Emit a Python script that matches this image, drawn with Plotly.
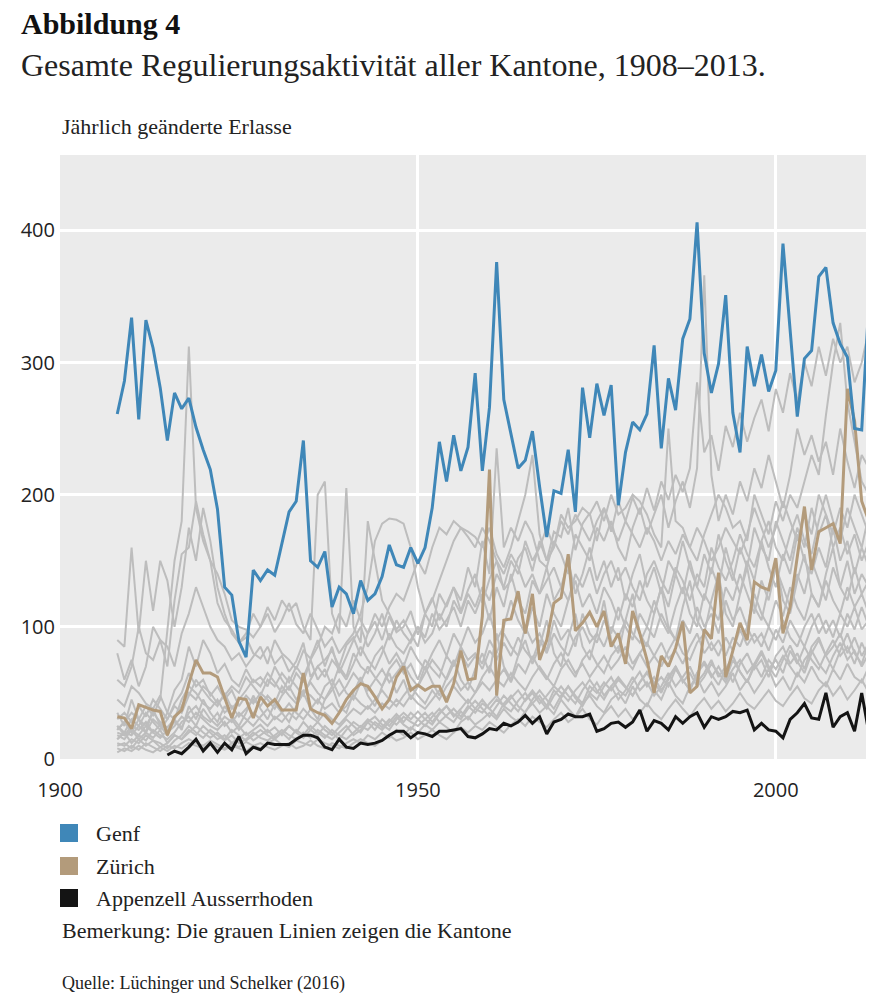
import plotly.graph_objects as go

# Jahre
jahre = list(range(1908, 2014))
jahre_ar = list(range(1915, 2014))

# Genf (blau)
genf = [261, 286, 334, 257, 332, 311, 281, 241, 277, 265,
        273, 251, 234, 219, 189, 130, 124, 89, 77, 143,
        135, 143, 139, 163, 187, 195, 241, 150, 145, 157,
        115, 130, 125, 110, 135, 120, 125, 138, 162, 147,
        145, 160, 148, 160, 190, 240, 210, 245, 218, 236,
        292, 218, 266, 376, 272, 246, 220, 226, 248, 206,
        168, 203, 201, 234, 187, 281, 243, 284, 260, 283,
        192, 232, 255, 249, 261, 313, 235, 288, 264, 318,
        333, 406, 307, 277, 299, 351, 262, 232, 312, 282,
        306, 278, 294, 390, 325, 259, 303, 309, 365, 372,
        330, 314, 304, 250, 249, 345]

# Zürich (braun)
zuerich = [32, 31, 23, 41, 39, 37, 36, 18, 32, 37,
           57, 75, 65, 65, 62, 47, 31, 46, 45, 31,
           47, 40, 45, 37, 37, 37, 65, 38, 35, 33,
           27, 35, 45, 52, 57, 55, 47, 38, 45, 62,
           70, 52, 56, 52, 55, 55, 43, 57, 82, 60,
           61, 108, 219, 48, 105, 106, 127, 95, 125, 75,
           90, 118, 122, 155, 97, 103, 111, 100, 112, 85,
           95, 72, 112, 95, 75, 50, 78, 70, 84, 104,
           50, 55, 98, 91, 141, 62, 82, 103, 90, 134,
           130, 128, 152, 95, 115, 153, 191, 143, 172, 175,
           178, 163, 280, 256, 195, 180]

# Appenzell Ausserrhoden (schwarz), ab 1915
appenzell = [3, 6, 4, 9, 15, 6, 12, 5, 12, 7,
             17, 4, 9, 7, 12, 11, 11, 11, 15, 18,
             18, 16, 9, 7, 15, 9, 8, 12, 11, 12,
             14, 18, 21, 21, 16, 20, 19, 17, 21, 21,
             22, 23, 17, 16, 19, 23, 22, 27, 25, 28,
             33, 27, 32, 19, 28, 30, 34, 32, 32, 34,
             21, 23, 27, 28, 24, 28, 37, 21, 29, 27,
             22, 32, 27, 32, 35, 24, 32, 30, 32, 36,
             35, 37, 22, 27, 22, 21, 16, 30, 35, 42,
             31, 30, 50, 24, 32, 35, 21, 50, 20]

# uebrige Kantone (grau)
grau_01 = [22, 28, 35, 30, 40, 33, 45, 95, 150, 180,
           312, 190, 165, 150, 118, 105, 98, 88, 92, 80,
           76, 85, 72, 78, 66, 74, 88, 62, 70, 75,
           82, 70, 86, 92, 78, 95, 104, 90, 108, 96,
           100, 112, 94, 110, 122, 105, 118, 130, 112, 128,
           140, 118, 136, 150, 128, 135, 152, 160, 142, 165,
           150, 172, 168, 190, 158, 178, 186, 165, 190, 172,
           195, 180, 198, 185, 205, 188, 210, 196, 215, 202,
           220, 285, 232, 245, 218, 252, 236, 262, 240, 258,
           272, 248, 280, 262, 292, 270, 300, 282, 312, 290,
           318, 300, 312, 285, 300, 325]
grau_02 = [90, 85, 160, 95, 150, 112, 150, 135, 100, 130,
           175, 150, 190, 165, 130, 110, 95, 88, 95, 110,
           100, 115, 105, 120, 112, 118, 100, 90, 200, 210,
           110, 95, 205, 100, 88, 180, 150, 120, 110, 98,
           105, 95, 85, 110, 100, 125, 115, 130, 120, 145,
           130, 165, 140, 235, 160, 175, 165, 180, 170, 150,
           145, 165, 155, 140, 170, 160, 150, 175, 165, 180,
           160, 150, 175, 190, 170, 185, 200, 175, 195, 210,
           190, 220, 366, 215, 180, 200, 185, 210, 195, 220,
           205, 230, 210, 190, 215, 250, 230, 245, 225, 240,
           215, 250, 225, 205, 230, 220]
grau_03 = [60, 55, 70, 100, 80, 75, 90, 70, 120, 155,
           160, 195, 170, 150, 140, 125, 105, 100, 98, 92,
           100, 110, 96, 105, 118, 102, 95, 110, 98, 85,
           92, 80, 88, 95, 110, 130, 165, 178, 182, 181,
           178, 160, 130, 110, 120, 135, 150, 165, 175, 172,
           168, 160, 175, 155, 145, 160, 180, 200, 230, 170,
           150, 160, 185, 175, 180, 190, 185, 195, 180, 200,
           185, 190, 200, 195, 185, 170, 160, 250, 180, 175,
           160, 150, 170, 185, 200, 190, 175, 180, 165, 200,
           185, 170, 195, 180, 200, 190, 210, 230, 215, 260,
           300, 330, 270, 240, 210, 200]
grau_04 = [80, 60, 75, 55, 70, 100, 90, 85, 70, 95,
           110, 130, 115, 100, 90, 85, 75, 80, 70, 78,
           85, 72, 90, 80, 75, 68, 82, 76, 90, 70,
           85, 65, 78, 90, 100, 85, 95, 110, 90, 105,
           95, 88, 100, 92, 110, 98, 105, 115, 100, 120,
           110, 125, 105, 130, 115, 140, 120, 110, 135, 125,
           145, 120, 130, 150, 125, 140, 160, 135, 150, 130,
           145, 120, 140, 155, 130, 145, 125, 150, 140, 165,
           145, 130, 155, 140, 170, 150, 135, 160, 145, 175,
           160, 150, 180, 165, 150, 175, 160, 190, 170, 185,
           160, 175, 155, 170, 150, 165]
grau_05 = [45, 40, 55, 50, 42, 38, 48, 35, 52, 60,
           85, 70, 90, 80, 65, 72, 60, 55, 68, 58,
           62, 55, 70, 60, 52, 65, 58, 75, 60, 68,
           55, 70, 62, 80, 70, 65, 78, 85, 72, 80,
           70, 85, 75, 68, 80, 90, 78, 95, 85, 100,
           88, 95, 110, 90, 100, 120, 105, 95, 115, 100,
           125, 110, 100, 120, 135, 115, 125, 110, 130, 120,
           105, 125, 115, 135, 120, 110, 130, 115, 140, 125,
           150, 130, 120, 145, 130, 160, 140, 125, 150, 135,
           165, 145, 130, 155, 140, 170, 150, 140, 160, 145,
           175, 150, 165, 140, 160, 145]
grau_06 = [30, 35, 28, 40, 32, 45, 38, 30, 42, 50,
           65, 55, 60, 48, 55, 45, 52, 40, 48, 42,
           50, 45, 38, 48, 55, 45, 52, 48, 42, 55,
           60, 48, 55, 65, 58, 70, 62, 55, 68, 75,
           65, 72, 60, 75, 68, 62, 78, 70, 85, 75,
           80, 72, 90, 80, 95, 85, 78, 100, 88, 95,
           82, 105, 90, 98, 85, 110, 95, 88, 105, 95,
           115, 100, 90, 110, 100, 120, 105, 95, 115, 130,
           110, 100, 125, 115, 105, 130, 120, 140, 125, 110,
           135, 120, 145, 130, 115, 140, 125, 150, 135, 120,
           145, 130, 150, 125, 140, 130]
grau_07 = [25, 20, 30, 25, 35, 28, 22, 30, 40, 35,
           48, 60, 52, 45, 40, 50, 38, 45, 52, 60,
           55, 65, 58, 50, 62, 55, 48, 60, 70, 62,
           75, 68, 60, 72, 85, 75, 68, 80, 95, 85,
           80, 90, 100, 88, 95, 110, 100, 120, 110, 125,
           115, 130, 120, 140, 130, 150, 140, 165, 150, 160,
           175, 160, 180, 170, 185, 175, 165, 180, 190, 175,
           165, 180, 170, 160, 175, 165, 150, 165, 155, 170,
           160, 175, 165, 150, 160, 175, 165, 155, 170, 190,
           175, 160, 175, 195, 180, 165, 185, 170, 200, 185,
           170, 190, 175, 200, 185, 170]
grau_08 = [20, 18, 25, 22, 28, 20, 26, 24, 30, 45,
           55, 50, 42, 38, 45, 35, 40, 32, 38, 45,
           40, 48, 42, 55, 48, 42, 50, 58, 50, 45,
           52, 60, 50, 45, 58, 52, 60, 68, 58, 65,
           72, 62, 55, 65, 75, 68, 60, 72, 80, 70,
           78, 68, 82, 75, 88, 78, 92, 82, 75, 90,
           80, 95, 85, 78, 92, 100, 88, 95, 85, 100,
           92, 105, 95, 88, 100, 92, 110, 98, 90, 105,
           95, 115, 100, 110, 95, 120, 105, 115, 100, 125,
           110, 100, 120, 108, 130, 115, 105, 125, 115, 135,
           120, 110, 130, 115, 125, 110]
grau_09 = [15, 20, 18, 25, 20, 30, 25, 35, 30, 40,
           50, 45, 55, 50, 42, 48, 55, 50, 62, 55,
           48, 60, 55, 65, 58, 70, 62, 75, 85, 100,
           95, 110, 100, 120, 105, 95, 110, 100, 115, 125,
           120, 135, 150, 140, 160, 175, 170, 180, 175, 168,
           160, 175, 165, 150, 140, 155, 145, 130, 140, 125,
           135, 145, 130, 120, 140, 130, 145, 125, 140, 150,
           135, 145, 130, 120, 140, 150, 135, 125, 145, 135,
           120, 140, 130, 160, 145, 135, 150, 170, 155, 145,
           165, 180, 160, 150, 170, 185, 165, 155, 180, 200,
           180, 165, 190, 175, 160, 185]
grau_10 = [10, 12, 8, 15, 10, 14, 9, 12, 18, 15,
           22, 18, 25, 20, 15, 18, 12, 16, 20, 14,
           18, 22, 16, 20, 15, 22, 18, 25, 20, 16,
           22, 18, 15, 20, 25, 22, 28, 24, 30, 26,
           32, 28, 25, 30, 35, 28, 33, 38, 32, 40,
           35, 42, 38, 45, 40, 36, 44, 50, 42, 48,
           40, 52, 46, 55, 48, 42, 55, 50, 58, 52,
           60, 54, 48, 58, 65, 56, 62, 55, 68, 60,
           52, 65, 72, 62, 70, 60, 75, 66, 58, 70,
           80, 68, 75, 65, 82, 72, 85, 75, 68, 80,
           90, 78, 85, 72, 88, 76]
grau_11 = [18, 15, 22, 18, 25, 20, 16, 22, 28, 24,
           35, 40, 32, 28, 35, 25, 30, 22, 28, 35,
           30, 25, 32, 28, 35, 30, 38, 32, 28, 35,
           30, 26, 32, 38, 34, 40, 35, 42, 38, 45,
           40, 48, 42, 38, 45, 52, 46, 55, 48, 42,
           50, 58, 52, 60, 55, 65, 58, 52, 62, 70,
           62, 55, 68, 75, 65, 72, 62, 70, 78, 68,
           75, 85, 72, 80, 70, 78, 88, 76, 82, 72,
           85, 95, 80, 88, 78, 92, 82, 98, 86, 95,
           85, 100, 90, 105, 92, 85, 100, 110, 95, 105,
           92, 110, 100, 115, 98, 105]
grau_12 = [8, 6, 10, 7, 12, 9, 6, 10, 8, 12,
           15, 12, 10, 14, 11, 8, 12, 9, 13, 10,
           8, 12, 15, 11, 9, 14, 12, 10, 15, 12,
           10, 8, 12, 15, 12, 18, 15, 20, 16, 22,
           18, 24, 20, 26, 22, 28, 24, 20, 28, 32,
           26, 30, 35, 30, 38, 32, 28, 36, 42, 35,
           40, 34, 45, 38, 32, 42, 48, 40, 35, 45,
           50, 42, 55, 45, 40, 52, 45, 58, 48, 42,
           55, 62, 50, 58, 48, 55, 65, 52, 60, 50,
           58, 68, 55, 62, 52, 65, 58, 70, 60, 55,
           68, 60, 72, 62, 58, 70]
grau_13 = [22, 28, 20, 30, 25, 35, 28, 20, 25, 32,
           28, 35, 30, 25, 22, 28, 20, 25, 18, 22,
           26, 20, 24, 18, 25, 20, 28, 22, 18, 25,
           20, 15, 22, 28, 24, 30, 26, 22, 28, 34,
           28, 35, 30, 25, 32, 38, 32, 28, 36, 30,
           38, 45, 38, 32, 42, 48, 40, 35, 45, 52,
           45, 38, 48, 55, 46, 40, 50, 58, 48, 55,
           45, 52, 62, 52, 58, 48, 55, 65, 55, 62,
           70, 58, 65, 75, 62, 70, 58, 72, 80, 68,
           75, 62, 78, 85, 72, 80, 68, 85, 92, 78,
           85, 95, 80, 92, 78, 88]
grau_14 = [12, 10, 15, 12, 18, 14, 12, 8, 14, 18,
           25, 20, 16, 22, 18, 14, 18, 12, 15, 20,
           16, 14, 18, 22, 18, 15, 20, 16, 22, 18,
           15, 20, 25, 18, 22, 28, 22, 30, 25, 32,
           26, 22, 30, 35, 28, 35, 40, 32, 38, 45,
           38, 35, 42, 48, 40, 46, 52, 44, 50, 42,
           48, 55, 50, 44, 52, 58, 50, 45, 55, 62,
           52, 48, 58, 66, 55, 62, 52, 60, 70, 58,
           65, 55, 62, 72, 65, 58, 68, 75, 65, 72,
           62, 75, 68, 78, 70, 62, 75, 82, 72, 65,
           78, 88, 75, 82, 70, 80]
grau_15 = [15, 20, 12, 18, 14, 22, 18, 15, 20, 28,
           32, 25, 38, 30, 25, 32, 28, 35, 30, 25,
           32, 38, 30, 35, 42, 35, 30, 38, 45, 38,
           42, 35, 40, 48, 42, 38, 45, 52, 45, 40,
           48, 55, 48, 42, 52, 45, 55, 62, 52, 58,
           50, 62, 70, 60, 68, 58, 72, 65, 78, 68,
           60, 72, 80, 70, 62, 75, 82, 72, 65, 78,
           85, 75, 68, 80, 88, 78, 70, 82, 92, 80,
           75, 88, 95, 82, 90, 78, 92, 85, 100, 88,
           95, 82, 98, 88, 105, 95, 85, 100, 110, 95,
           105, 92, 110, 98, 115, 100]
grau_16 = [5, 8, 6, 10, 7, 5, 9, 6, 10, 8,
           12, 10, 8, 12, 9, 7, 10, 8, 6, 10,
           12, 9, 7, 10, 12, 8, 10, 14, 10, 8,
           12, 10, 8, 12, 15, 12, 10, 14, 18, 14,
           16, 20, 15, 18, 22, 18, 15, 20, 24, 20,
           25, 22, 28, 24, 20, 26, 30, 25, 32, 28,
           24, 30, 35, 28, 32, 38, 30, 26, 34, 40,
           32, 38, 30, 35, 42, 35, 30, 38, 45, 38,
           32, 40, 46, 38, 44, 36, 42, 50, 42, 38,
           45, 52, 44, 40, 48, 55, 46, 42, 52, 58,
           48, 55, 45, 52, 60, 50]
grau_17 = [35, 25, 45, 30, 20, 38, 25, 18, 30, 22,
           40, 30, 45, 35, 28, 40, 32, 25, 35, 48,
           38, 30, 42, 35, 28, 40, 50, 38, 30, 45,
           55, 40, 35, 50, 62, 48, 40, 55, 65, 50,
           60, 45, 55, 70, 58, 48, 62, 75, 60, 52,
           68, 80, 65, 95, 70, 60, 78, 90, 72, 85,
           105, 80, 70, 92, 110, 85, 75, 95, 120, 90,
           80, 105, 125, 95, 85, 110, 130, 100, 90, 115,
           135, 105, 95, 120, 140, 110, 100, 125, 145, 115,
           105, 130, 150, 120, 110, 135, 155, 125, 115, 140,
           160, 130, 120, 145, 125, 135]
grau_18 = [25, 18, 22, 15, 20, 16, 22, 12, 18, 15,
           20, 25, 20, 16, 20, 15, 22, 18, 14, 18,
           22, 18, 15, 20, 25, 20, 16, 22, 28, 22,
           18, 24, 30, 25, 20, 28, 32, 26, 22, 30,
           35, 30, 36, 30, 26, 34, 40, 34, 30, 38,
           44, 38, 32, 40, 48, 42, 36, 45, 52, 45,
           38, 48, 55, 48, 42, 52, 60, 52, 45, 55,
           62, 55, 48, 58, 66, 58, 50, 62, 70, 60,
           52, 65, 74, 64, 56, 68, 78, 66, 58, 72,
           82, 70, 62, 75, 86, 74, 65, 80, 90, 78,
           68, 82, 95, 80, 72, 88]

grau = [grau_01, grau_02, grau_03, grau_04, grau_05, grau_06, grau_07, grau_08, grau_09,
        grau_10, grau_11, grau_12, grau_13, grau_14, grau_15, grau_16, grau_17, grau_18]

farbe_genf = "#3f87b8"
farbe_zh = "#b39b7b"
farbe_ar = "#141414"
farbe_grau = "#bdbdbd"

# die Seite hat 8px Rand, daher Figur etwas kleiner und Pixelangaben -8
RAND = 8
W, H = 878 - RAND, 994 - RAND
L, R, T, B = 52, 12, 147, 235


def px(x):
    return (x - RAND - L) / (W - L - R)


def py(y):
    return (H - B - (y - RAND)) / (H - T - B)


fig = go.Figure()

for werte in grau:
    fig.add_trace(go.Scatter(x=jahre, y=werte, mode="lines",
                             line=dict(color=farbe_grau, width=2),
                             hoverinfo="skip", showlegend=False))

fig.add_trace(go.Scatter(x=jahre_ar, y=appenzell, mode="lines", name="Appenzell Ausserrhoden",
                         line=dict(color=farbe_ar, width=3), showlegend=False))
fig.add_trace(go.Scatter(x=jahre, y=zuerich, mode="lines", name="Zürich",
                         line=dict(color=farbe_zh, width=3), showlegend=False))
fig.add_trace(go.Scatter(x=jahre, y=genf, mode="lines", name="Genf",
                         line=dict(color=farbe_genf, width=3), showlegend=False))

serif = "Liberation Serif"

annotations = [
    dict(text="<b>Abbildung 4</b>", x=px(19), y=py(24), font=dict(family=serif, size=30, color="#111")),
    dict(text="Gesamte Regulierungsaktivität aller Kantone, 1908–2013.", x=px(19), y=py(65),
         font=dict(family=serif, size=32, color="#222")),
    dict(text="Jährlich geänderte Erlasse", x=px(60), y=py(126), font=dict(family=serif, size=22, color="#222")),
    dict(text="Genf", x=px(94), y=py(833), font=dict(family=serif, size=22, color="#222")),
    dict(text="Zürich", x=px(94), y=py(866), font=dict(family=serif, size=22, color="#222")),
    dict(text="Appenzell Ausserrhoden", x=px(94), y=py(898), font=dict(family=serif, size=22, color="#222")),
    dict(text="Bemerkung: Die grauen Linien zeigen die Kantone", x=px(60), y=py(931),
         font=dict(family=serif, size=22, color="#222")),
    dict(text="Quelle: Lüchinger und Schelker (2016)", x=px(60), y=py(983),
         font=dict(family=serif, size=18, color="#222")),
]
for a in annotations:
    a.update(xref="paper", yref="paper", xanchor="left", yanchor="middle", showarrow=False)

shapes = []
for farbe, yc in [(farbe_genf, 833), (farbe_zh, 866), (farbe_ar, 898)]:
    shapes.append(dict(type="rect", xref="paper", yref="paper",
                       x0=px(60), x1=px(78), y0=py(yc + 9), y1=py(yc - 9),
                       fillcolor=farbe, line=dict(width=0)))

fig.update_layout(
    width=W, height=H,
    margin=dict(l=L, r=R, t=T, b=B),
    paper_bgcolor="white",
    plot_bgcolor="#ebebeb",
    showlegend=False,
    annotations=annotations,
    shapes=shapes,
    xaxis=dict(range=[1900, 2012.6], tickvals=[1900, 1950, 2000],
               showgrid=True, gridcolor="white", gridwidth=3, zeroline=False,
               ticks="", ticklabelstandoff=17,
               tickfont=dict(family="Open Sans", size=20, color="#222")),
    yaxis=dict(range=[0, 457], tickvals=[0, 100, 200, 300, 400],
               showgrid=True, gridcolor="white", gridwidth=3, zeroline=False,
               ticks="", ticklabelstandoff=4,
               tickfont=dict(family="Open Sans", size=20, color="#222")),
)

fig.write_html("out.html")
